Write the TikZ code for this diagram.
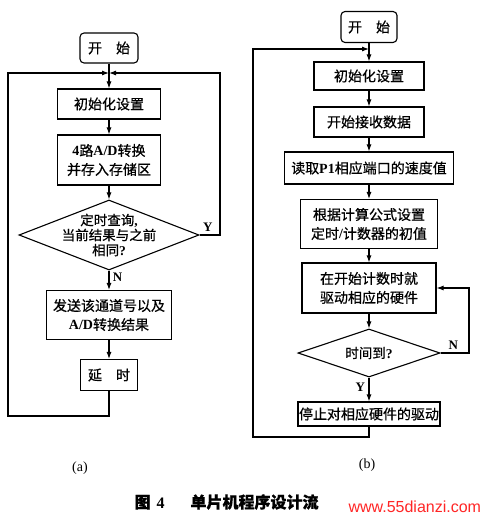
\documentclass[tikz,border=0pt]{standalone}
\usepackage{fontspec}
\setmainfont[FakeBold=0.6]{Noto Sans CJK SC}
\newfontfamily\latinfont{Liberation Serif}
\newfontfamily\webfont{Liberation Sans}
\usetikzlibrary{shapes.geometric,arrows.meta}
\newcommand{\lat}[1]{{\latinfont\bfseries #1}}

\begin{document}
\begin{tikzpicture}[x=1pt, y=-1pt,
  startbox/.style={draw, line width=1.1pt, rounded corners=4pt,
               minimum height=30pt, minimum width=58pt,
               font=\fontsize{14}{18}\selectfont},
  procbox/.style={draw, line width=1.1pt, align=center, inner sep=1pt,
              font=\fontsize{14}{19}\selectfont},
  decision/.style={draw, diamond, line width=1.1pt, inner sep=0pt},
  dectext/.style={align=center, font=\fontsize{13.5}{15}\selectfont},
  flow/.style={line width=1.1pt, -{Latex[length=7pt,width=5pt]}},
  yn/.style={font=\fontsize{13}{13}\selectfont\latinfont\bfseries},
  sub/.style={font=\fontsize{14}{14}\selectfont\latinfont},
]
\useasboundingbox (0,0) rectangle (480,518);
\fill[white] (0,0) rectangle (480,518);

% (a): A/D sampling loop
\node[startbox] (start1) at (109,48) {开\hspace{14pt}始};
\coordinate (join1) at (109,73);
\node[procbox, minimum width=103pt, minimum height=30pt] (init1) at (109,104) {初始化设置};
\node[procbox, minimum width=103pt, minimum height=50pt] (conv1) at (109,160)
  {\lat{4}路\lat{A/D}转换\\并存入存储区};
\node[decision, minimum width=180pt, minimum height=70pt,
  label={[dectext]center:{定时查询\lat{,}\\当前结果与之前\\相同\lat{?}}}] (check1) at (109,235) {};
\node[procbox, minimum width=125pt, minimum height=49pt] (send1) at (109,315)
  {发送该通道号以及\\\lat{A/D}转换结果};
\node[procbox, minimum width=57pt, minimum height=31pt] (delay1) at (109,375) {延\hspace{14pt}时};

\draw[flow] (start1) -- (init1);
\draw[flow] (init1) -- (conv1);
\draw[flow] (conv1) -- (check1);
\draw[flow] (check1) -- node[yn, right, pos=0.35] {N} (send1);
\draw[flow] (send1) -- (delay1);
\draw[flow] (check1.east) -- node[yn, above, pos=0.4] {Y} (220,235) |- (join1);
\draw[flow] (delay1.south) -- (109,416) -| (8,73) -- (join1);

% (b): timer / drive loop
\node[startbox, minimum width=56pt, minimum height=31pt] (start2) at (369,27) {开\hspace{14pt}始};
\coordinate (join2) at (369,49);
\node[procbox, minimum width=110pt, minimum height=28pt] (init2) at (369,76) {初始化设置};
\node[procbox, minimum width=110pt, minimum height=30pt] (recv2) at (369,122) {开始接收数据};
\node[procbox, minimum width=169pt, minimum height=32pt] (read2) at (369,168)
  {读取\lat{P1}相应端口的速度值};
\node[procbox, minimum width=137pt, minimum height=49pt] (calc2) at (369,224)
  {根据计算公式设置\\定时\lat{/}计数器的初值};
\node[procbox, minimum width=134pt, minimum height=50pt] (drive2) at (369,288)
  {在开始计数时就\\驱动相应的硬件};
\node[decision, minimum width=142pt, minimum height=48pt,
  label={[dectext]center:{时间到\lat{?}}}] (check2) at (369,353) {};
\node[procbox, minimum width=140pt, minimum height=24pt] (stop2) at (369,414)
  {停止对相应硬件的驱动};

\draw[flow] (start2) -- (init2);
\draw[flow] (init2) -- (recv2);
\draw[flow] (recv2) -- (read2);
\draw[flow] (read2) -- (calc2);
\draw[flow] (calc2) -- (drive2);
\draw[flow] (drive2) -- (check2);
\draw[flow] (check2) -- node[yn, left, pos=0.4] {Y} (stop2);
\draw[flow] (check2.east) -- node[yn, above, pos=0.45] {N} (469,353) |- (drive2.east);
\draw[flow] (stop2.south) -- (369,437) -| (253,49) -- (join2);

% captions
\node[sub] (taga) at (80,468) {(a)};
\node[sub] (tagb) at (367,465) {(b)};
\node[anchor=west, font=\fontsize{16}{16}\selectfont\bfseries] (caption) at (131,502)
  {图\hspace{6pt}\lat{4}\hspace{26pt}单片机程序设计流};
\node[anchor=west, text=red!85, font=\webfont\fontsize{16}{16}\selectfont] (mark) at (345,507)
  {www.55dianzi.com};

\end{tikzpicture}
\end{document}
